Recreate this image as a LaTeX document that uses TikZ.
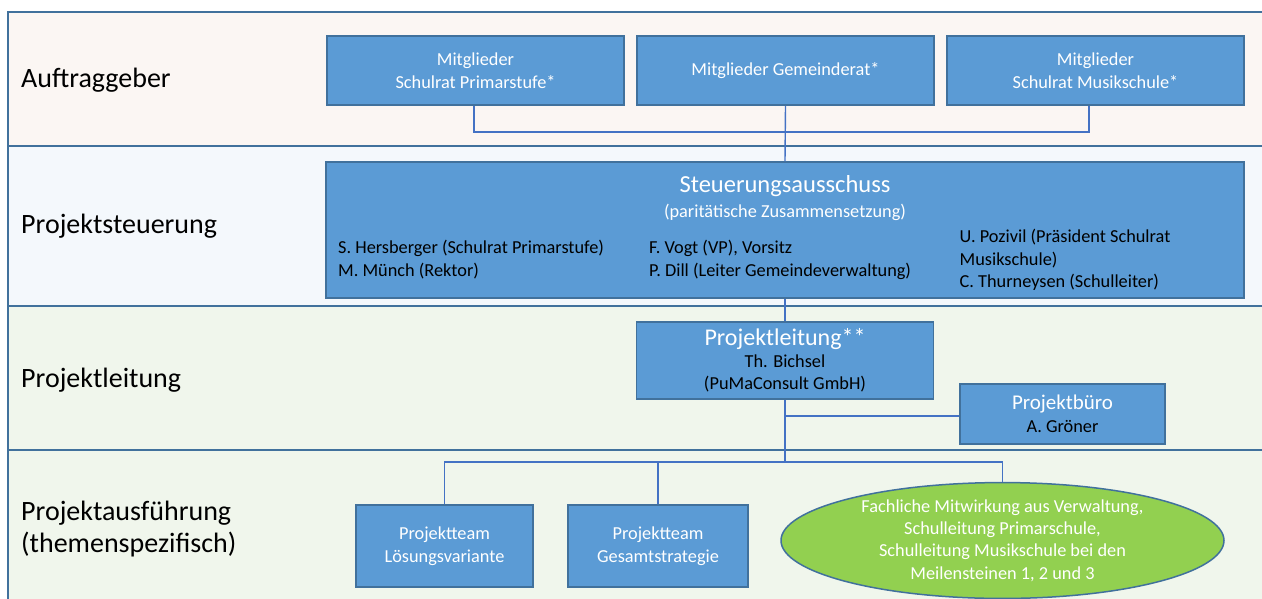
\documentclass[tikz,border=0pt]{standalone}
\usepackage{fontspec}
\setmainfont{Carlito}
\usetikzlibrary{positioning,
                shapes.geometric}
\definecolor{boxblue}{HTML}{5B9BD5}
\definecolor{boxline}{HTML}{41719C}
\definecolor{linkblue}{HTML}{4472C4}
\definecolor{bandpeach}{HTML}{FBF6F3}
\definecolor{bandblue}{HTML}{F4F8FC}
\definecolor{bandgreen}{HTML}{F0F6EC}
\definecolor{ovalgreen}{HTML}{92D050}
\begin{document}
\begin{tikzpicture}[x=1pt, y=-1pt,
  box/.style={draw=boxline, line width=1.5pt, fill=boxblue, text=white, align=center, inner sep=0pt, font=\fontsize{18.3}{22.5}\selectfont},
  band/.style={draw=boxline, line width=1.8pt},
  level/.style={anchor=west, align=left, inner sep=0pt, font=\fontsize{28}{32}\selectfont},
  names/.style={anchor=north west, align=left, inner sep=0pt, text=black, font=\fontsize{18.3}{22.5}\selectfont},
  link/.style={draw=linkblue, line width=1.4pt}]

  \useasboundingbox (0,0) rectangle (1262,598);
  \clip (0,0) rectangle (1262,598);
  \fill[white] (0,0) rectangle (1262,598);

  % Ebenen
  \draw[band, fill=bandpeach] (8,12) rectangle (1275,146);
  \draw[band, fill=bandblue] (8,146) rectangle (1275,306);
  \draw[band, fill=bandgreen] (8,306) rectangle (1275,450);
  \draw[band, fill=bandgreen] (8,450) rectangle (1275,615);

  \node[level] (lv-auftrag) at (21,80) {Auftraggeber};
  \node[level] (lv-steuerung) at (21,226) {Projektsteuerung};
  \node[level] (lv-leitung) at (21,380) {Projektleitung};
  \node[level] (lv-ausfuehrung) at (21,529) {Projektausführung\\(themenspezifisch)};

  % Auftraggeber
  \node[box, minimum width=297pt, minimum height=69pt] (mg-prim) at (475.5,70.5) {Mitglieder\\Schulrat Primarstufe*};
  \node[box, minimum width=297pt, minimum height=69pt] (mg-gemeinde) at (785.5,70.5) {Mitglieder Gemeinderat*};
  \node[box, minimum width=297pt, minimum height=69pt] (mg-musik) at (1095.5,70.5) {Mitglieder\\Schulrat Musikschule*};

  % Steuerungsausschuss
  \node[box, minimum width=918pt, minimum height=136pt] (sa) at (785,230) {};
  \node[text=white, inner sep=0pt, font=\fontsize{24.5}{28}\selectfont] (sa-title) at (785,186) {Steuerungsausschuss};
  \node[text=white, inner sep=0pt, font=\fontsize{18.3}{22}\selectfont] (sa-sub) at (785,212) {(paritätische Zusammensetzung)};
  \node[names] (sa-left) at (338,240) {S. Hersberger (Schulrat Primarstufe)\\M. Münch (Rektor)};
  \node[names] (sa-mid) at (649,240) {F. Vogt (VP), Vorsitz\\P. Dill (Leiter Gemeindeverwaltung)};
  \node[names] (sa-right) at (959.5,229) {U. Pozivil (Präsident Schulrat\\Musikschule)\\C. Thurneysen (Schulleiter)};

  % Projektleitung
  \node[box, minimum width=297pt, minimum height=77pt] (pl) at (785,360.5) {{\fontsize{24}{26}\selectfont Projektleitung**}\\[-1pt]\textcolor{black}{Th. Bichsel}\\\textcolor{black}{(PuMaConsult GmbH)}};
  \node[box, minimum width=205pt, minimum height=60pt] (buero) at (1062.5,414) {{\fontsize{21}{24}\selectfont Projektbüro}\\\textcolor{black}{A. Gröner}};

  % Projektausfuehrung
  \node[box, minimum width=177pt, minimum height=82pt] (team-loes) at (444.5,546) {Projektteam\\Lösungsvariante};
  \node[box, minimum width=180pt, minimum height=82pt] (team-ges) at (658,546) {Projektteam\\Gesamtstrategie};
  \node[ellipse, draw=boxline, line width=1.5pt, fill=ovalgreen, text=white, align=center, inner sep=0pt,
        minimum width=443pt, minimum height=111pt, font=\fontsize{18.3}{22.3}\selectfont] (fach) at (1002.5,540.5)
        {Fachliche Mitwirkung aus Verwaltung,\\Schulleitung Primarschule,\\Schulleitung Musikschule bei den\\Meilensteinen 1, 2 und 3};

  \coordinate (bus-top) at (785,132);
  \coordinate (bus-bottom) at (785,462);

  \draw[link] (mg-prim.south -| 474,0) |- (bus-top) -| (mg-musik.south -| 1089,0);
  \draw[link] (mg-gemeinde.south) -- (sa.north);
  \draw[link] (sa.south) -- (pl.north);
  \draw[link] (pl.south) -- (bus-bottom);
  \draw[link] (buero.west |- 0,416) -- (pl.south |- 0,416);
  \draw[link] (team-loes.north) |- (bus-bottom) -| (fach.north);
  \draw[link] (team-ges.north) -- (team-ges.north |- bus-bottom);
\end{tikzpicture}
\end{document}
